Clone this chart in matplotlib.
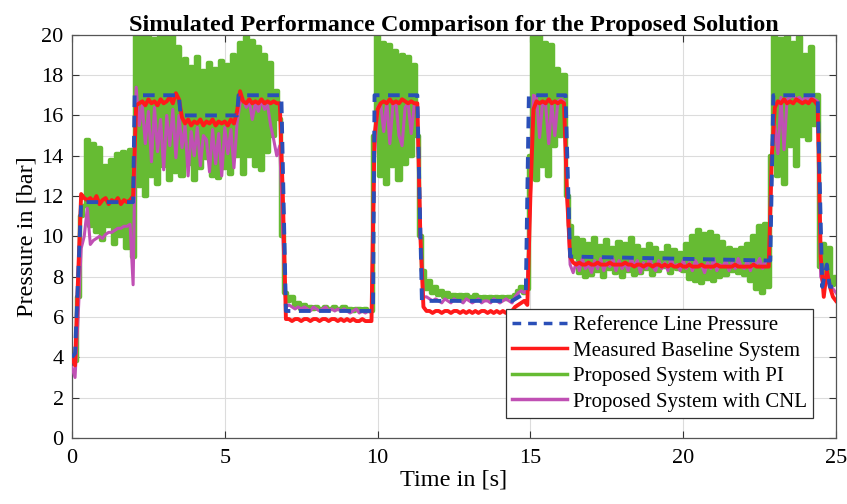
import numpy as np
import matplotlib
matplotlib.use('Agg')
import matplotlib.pyplot as plt
from matplotlib.lines import Line2D

plt.rcParams['font.family'] = 'Liberation Serif'

# sample step of the recorded signals [s]
dt = 0.1

# reference line pressure (breakpoints)
ref_t = [0, 0.1, 0.3, 2.0, 2.05, 3.5, 3.55, 5.4, 5.45, 6.85, 7.0, 9.85, 9.9,
         11.3, 11.45, 14.4, 14.85, 14.95, 16.15, 16.3, 22.85, 22.95, 24.4,
         24.55, 24.7, 24.8, 24.9]
ref_p = [4.0, 4.2, 11.7, 11.7, 17.0, 17.0, 16.0, 16.0, 17.0, 17.0, 6.3, 6.3,
         17.0, 17.0, 6.8, 6.8, 7.2, 17.0, 17.0, 9.0, 8.8, 17.0, 17.0,
         7.5, 8.6, 7.5, 7.5]

# measured baseline system
red = [4.0, 3.6, 8.0, 12.1, 11.9, 11.8, 11.9, 11.7, 12.0, 11.6,
       11.8, 11.9, 11.6, 11.8, 11.7, 11.9, 11.6, 11.8, 11.7, 11.8,
       12.0, 16.5, 16.6, 16.7, 16.5, 16.8, 16.6, 16.7, 16.5, 16.8,
       16.6, 16.7, 16.9, 16.6, 17.1, 16.8, 15.9, 15.6, 15.8, 15.5,
       15.7, 15.6, 15.8, 15.5, 15.7, 15.6, 15.8, 15.5, 15.7, 15.6,
       15.7, 15.5, 15.8, 15.6, 16.2, 17.2, 16.7, 16.6, 16.8, 16.6,
       16.7, 16.6, 16.8, 16.6, 16.7, 16.6, 16.7, 16.6, 16.6, 12.0,
       5.9, 5.9, 5.8, 5.9, 5.9, 5.8, 5.9, 5.9, 5.8, 5.9,
       5.9, 5.8, 5.9, 5.9, 5.8, 5.9, 5.9, 5.8, 5.9, 5.8,
       5.9, 5.8, 5.9, 5.8, 5.8, 5.9, 5.8, 5.8, 5.8, 15.0,
       16.3, 16.6, 16.7, 16.6, 16.8, 16.6, 16.7, 16.6, 16.8, 16.7,
       16.6, 16.7, 16.6, 16.6, 10.0, 6.5, 6.3, 6.3, 6.2, 6.3,
       6.3, 6.2, 6.3, 6.3, 6.2, 6.3, 6.3, 6.2, 6.3, 6.2,
       6.3, 6.2, 6.3, 6.2, 6.3, 6.3, 6.2, 6.3, 6.2, 6.3,
       6.2, 6.3, 6.2, 6.3, 6.3, 6.5, 6.6, 6.7, 6.8, 6.6,
       12.0, 16.3, 16.7, 16.6, 16.7, 16.6, 16.8, 16.6, 16.7, 16.6,
       16.7, 16.6, 12.0, 9.0, 8.7, 8.6, 8.7, 8.6, 8.6, 8.7,
       8.6, 8.6, 8.7, 8.6, 8.6, 8.6, 8.7, 8.6, 8.6, 8.6,
       8.6, 8.7, 8.6, 8.6, 8.5, 8.6, 8.6, 8.5, 8.6, 8.6,
       8.5, 8.6, 8.6, 8.5, 8.6, 8.5, 8.6, 8.5, 8.5, 8.6,
       8.5, 8.5, 8.6, 8.5, 8.5, 8.5, 8.6, 8.5, 8.5, 8.5,
       8.5, 8.6, 8.5, 8.5, 8.5, 8.5, 8.5, 8.6, 8.5, 8.5,
       8.5, 8.5, 8.5, 8.6, 8.5, 8.5, 8.5, 8.5, 8.5, 14.0,
       16.4, 16.7, 16.6, 16.8, 16.6, 16.7, 16.6, 16.8, 16.7, 16.6,
       16.7, 16.6, 16.8, 16.7, 16.5, 9.0, 7.0, 8.3, 7.5, 7.0,
       6.8]

# proposed system with PI
green = [4.0, 3.8, 7.0, 11.0, 11.5, 14.8, 10.5, 14.6, 10.2, 14.4,
         9.8, 13.5, 10.5, 13.8, 9.6, 14.1, 10.0, 14.2, 9.4, 14.3,
         9.0, 20.0, 12.5, 20.0, 12.0, 20.0, 13.0, 19.8, 12.6, 20.0,
         13.5, 19.9, 12.8, 20.0, 13.2, 19.4, 13.0, 18.8, 13.6, 18.4,
         12.8, 18.9, 13.4, 18.2, 13.9, 18.6, 13.0, 18.3, 12.9, 18.7,
         13.4, 18.5, 13.1, 19.0, 14.0, 19.6, 13.1, 19.9, 14.0, 19.7,
         13.5, 19.4, 13.3, 19.0, 14.2, 18.6, 15.0, 17.2, 15.8, 10.0,
         7.2, 6.8, 7.0, 6.6, 6.7, 6.4, 6.6, 6.4, 6.5, 6.4,
         6.5, 6.4, 6.4, 6.5, 6.4, 6.4, 6.5, 6.4, 6.4, 6.5,
         6.4, 6.4, 6.3, 6.4, 6.4, 6.3, 6.4, 6.3, 6.3, 15.0,
         20.0, 13.0, 19.6, 12.6, 19.5, 13.5, 19.2, 12.8, 19.0, 13.6,
         18.9, 14.0, 18.5, 15.0, 10.0, 8.3, 7.4, 7.8, 7.2, 7.5,
         7.1, 7.3, 7.0, 7.2, 7.0, 7.1, 7.0, 7.1, 6.9, 7.1,
         7.0, 6.9, 7.1, 7.0, 6.9, 7.0, 6.9, 7.0, 6.9, 7.0,
         6.9, 7.0, 6.9, 7.0, 7.0, 7.1, 7.3, 7.5, 7.2, 7.4,
         14.0, 19.9, 12.8, 20.0, 13.5, 19.6, 13.0, 19.5, 14.5, 18.3,
         15.0, 18.0, 12.0, 10.5, 9.0, 9.9, 8.2, 9.8, 8.0, 9.6,
         8.1, 9.9, 8.3, 9.5, 8.0, 9.8, 8.4, 9.4, 8.2, 9.7,
         8.0, 9.6, 8.3, 9.9, 8.1, 9.5, 8.2, 9.3, 8.4, 9.6,
         8.1, 9.4, 8.3, 9.2, 8.5, 9.5, 8.2, 9.3, 8.4, 9.2,
         8.3, 9.6, 7.9, 10.0, 7.8, 10.3, 7.7, 10.1, 7.9, 10.2,
         7.8, 10.0, 8.0, 9.7, 8.1, 9.4, 8.3, 9.3, 8.2, 9.4,
         8.1, 9.6, 7.8, 10.0, 7.4, 10.5, 7.2, 10.6, 7.5, 14.0,
         20.0, 13.0, 19.8, 12.6, 20.0, 14.5, 19.6, 13.5, 19.9, 15.0,
         19.0, 14.8, 19.4, 15.5, 17.0, 8.5, 9.6, 8.0, 9.4, 7.6,
         8.0]

# proposed system with CNL
magenta = [3.5, 3.0, 6.0, 9.4, 10.0, 11.4, 9.6, 9.8, 9.9, 10.0,
           9.9, 10.1, 10.2, 10.2, 10.3, 10.4, 10.4, 10.5, 10.5, 10.6,
           7.6, 17.4, 15.5, 16.5, 14.6, 16.2, 13.7, 16.4, 14.2, 15.8,
           13.3, 16.0, 14.5, 16.3, 13.9, 16.0, 14.4, 15.5, 13.0, 15.2,
           14.0, 15.4, 13.5, 15.0, 14.8, 13.2, 15.3, 13.6, 15.1, 13.0,
           15.4, 14.1, 15.3, 13.4, 15.6, 16.6, 16.8, 16.4, 16.7, 15.8,
           16.6, 16.2, 16.8, 16.3, 16.5, 15.5, 14.8, 14.0, 14.5, 10.0,
           6.5, 6.6, 6.5, 6.4, 6.5, 6.4, 6.5, 6.4, 6.3, 6.5,
           6.4, 6.3, 6.4, 6.5, 6.3, 6.4, 6.3, 6.4, 6.3, 6.4,
           6.3, 6.2, 6.3, 6.4, 6.2, 6.3, 6.2, 6.3, 6.2, 14.0,
           16.4, 16.6, 15.2, 16.7, 14.6, 16.5, 16.7, 15.0, 14.5, 16.4,
           16.6, 15.1, 16.5, 16.6, 10.0, 7.0, 7.0, 6.9, 6.8, 6.9,
           6.8, 6.7, 6.9, 6.8, 6.7, 6.9, 6.8, 6.8, 6.7, 6.9,
           6.8, 6.7, 6.8, 6.9, 6.7, 6.8, 6.8, 6.7, 6.9, 6.8,
           6.7, 6.8, 6.9, 6.8, 6.7, 7.0, 7.2, 7.3, 7.2, 7.4,
           12.0, 17.0, 16.9, 14.9, 16.7, 16.5, 14.6, 16.6, 15.0, 16.7,
           16.8, 16.7, 12.0, 8.6, 8.2, 8.7, 8.3, 8.9, 8.4, 8.6,
           8.2, 8.8, 8.4, 8.9, 8.3, 8.7, 8.5, 8.9, 8.3, 8.8,
           8.4, 8.7, 8.3, 8.9, 8.5, 8.8, 8.2, 8.7, 8.4, 8.9,
           8.5, 8.3, 8.8, 8.4, 8.7, 8.3, 8.9, 8.5, 8.6, 8.3,
           8.8, 8.4, 8.7, 8.3, 8.8, 8.5, 8.6, 8.2, 8.7, 8.4,
           8.9, 8.3, 8.6, 8.5, 8.8, 8.3, 8.7, 8.4, 8.9, 8.5,
           8.4, 8.8, 8.3, 8.7, 8.6, 8.9, 8.4, 8.8, 8.7, 14.0,
           15.5, 14.1, 16.9, 14.3, 16.8, 16.9, 17.0, 16.8, 16.9, 16.7,
           16.9, 16.8, 16.9, 16.8, 16.7, 8.0, 7.6, 8.3, 7.6, 7.4,
           7.2]

labels = ['Reference Line Pressure', 'Measured Baseline System',
          'Proposed System with PI', 'Proposed System with CNL']

c_ref, c_red, c_green, c_mag = '#2a4fb8', '#ff1a1a', '#66bb33', '#c050b4'

t_red = np.arange(len(red)) * dt
t_green = np.arange(len(green)) * dt
t_mag = np.arange(len(magenta)) * dt

fig = plt.figure(figsize=(8.47, 5.04), dpi=100)
ax = fig.add_axes([0.085, 0.131, 0.902, 0.800])

ax.plot(t_green, green, color=c_green, lw=3.2, drawstyle='steps-mid', zorder=2)
ax.plot(t_mag, magenta, color=c_mag, lw=2.2, zorder=3)
ax.plot(t_red, red, color=c_red, lw=2.8, zorder=4)
ax.plot(ref_t, ref_p, color=c_ref, lw=2.8, ls=(0, (3, 2.2)), zorder=5)

ax.set_xlim(0, 25)
ax.set_ylim(0, 20)
ax.set_xticks(np.arange(0, 26, 5))
ax.set_yticks(np.arange(0, 21, 2))
ax.grid(True, color='#dcdcdc', lw=0.8)
ax.set_axisbelow(True)
ax.tick_params(direction='in', top=True, right=True, labelsize=16, length=5,
               color='#333333')
ax.tick_params(axis='x', pad=8)
ax.tick_params(axis='y', pad=6)
for s in ax.spines.values():
    s.set_color('#555555')
    s.set_linewidth(0.9)

ax.set_title('Simulated Performance Comparison for the Proposed Solution',
             fontsize=17.5, fontweight='bold', pad=3)
ax.set_xlabel('Time in [s]', fontsize=17.5, labelpad=1)
ax.set_ylabel('Pressure in [bar]', fontsize=17.5, labelpad=3)

handles = [Line2D([], [], color=c_ref, lw=2.5, ls=(0, (2.5, 2))),
           Line2D([], [], color=c_red, lw=2.5),
           Line2D([], [], color=c_green, lw=2.5),
           Line2D([], [], color=c_mag, lw=2.5)]
leg = ax.legend(handles, labels, loc='lower right',
                bbox_to_anchor=(0.97, 0.05), borderaxespad=0, fontsize=15,
                handlelength=2.6, handletextpad=0.3, labelspacing=0.28,
                borderpad=0.3, fancybox=False, framealpha=1)
leg.get_frame().set_edgecolor('#333333')
leg.get_frame().set_linewidth(0.9)

plt.savefig('out.png', dpi=100)
